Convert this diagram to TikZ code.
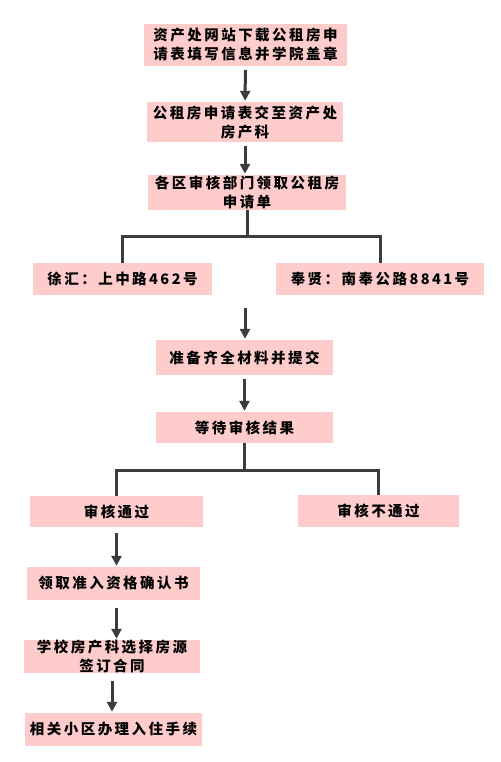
\documentclass[tikz,border=0pt]{standalone}
\usepackage{fontspec}
\newfontfamily\cjk[LetterSpace=17]{Noto Sans CJK SC}
\usepackage{tikz}
\usetikzlibrary{arrows.meta, calc, positioning}
\definecolor{boxpink}{HTML}{FFCCCC}
\definecolor{linegray}{HTML}{3C3C3C}
\tikzstyle{box} = [rectangle, fill=boxpink, inner sep=0pt, text centered, align=center, font=\cjk\bfseries\fontsize{14.5}{19}\selectfont]
\tikzstyle{arrow} = [draw=linegray, line width=3pt, -{Triangle[width=10pt,length=10pt]}, shorten <=4pt, shorten >=1pt]
\tikzstyle{line} = [draw=linegray, line width=3pt]

\begin{document}
\begin{tikzpicture}[x=1pt, y=-1pt]
		\useasboundingbox (0,0) rectangle (500,762);
		\node (Download) [box, minimum width=203pt, minimum height=42pt] at (245.5,45) {资产处网站下载公租房申\\请表填写信息并学院盖章};
		\node (Submit) [box, minimum width=196pt, minimum height=40pt] at (245,122) {公租房申请表交至资产处\\房产科};
		\node (District) [box, minimum width=198pt, minimum height=35pt] at (247,192.5) {各区审核部门领取公租房\\申请单};
		\node (Xuhui) [box, minimum width=179pt, minimum height=32pt] at (122.5,279) {徐汇：上中路462号};
		\node (Fengxian) [box, minimum width=208pt, minimum height=32pt] at (380,279) {奉贤：南奉公路8841号};
		\node (Prepare) [box, minimum width=177pt, minimum height=35pt] at (244.5,357.5) {准备齐全材料并提交};
		\node (Wait) [box, minimum width=177pt, minimum height=31pt] at (244.5,427.5) {等待审核结果};
		\node (Pass) [box, minimum width=173pt, minimum height=31pt] at (116.5,511.5) {审核通过};
		\node (Fail) [box, minimum width=161pt, minimum height=32pt] at (378.5,511) {审核不通过};
		\node (Certificate) [box, minimum width=173pt, minimum height=33pt] at (113.5,583.5) {领取准入资格确认书};
		\node (Contract) [box, minimum width=176pt, minimum height=33pt] at (112,656.5) {学校房产科选择房源\\签订合同};
		\node (Settle) [box, minimum width=177pt, minimum height=33pt] at (113.5,729.5) {相关小区办理入住手续};
		\coordinate (Gap) at (245,308);
		\draw [arrow] (Download) -- (Submit);
		\draw [arrow] (Submit.south) -- (Submit.south |- District.north);
		\draw [line] (District.south) -- ++(0,26) coordinate (Fork) -| (Xuhui.north);
		\draw [line] (Fork) -| (Fengxian.north);
		\draw [arrow, shorten <=0pt] (Gap) -- (Gap |- Prepare.north);
		\draw [arrow] (Prepare) -- (Wait);
		\draw [line] (Wait.south) -- ++(0,27) coordinate (Split) -| (Pass.north);
		\draw [line] (Split) -| (Fail.north);
		\draw [arrow, shorten <=6pt] (Pass.south) -- (Pass.south |- Certificate.north);
		\draw [arrow, shorten <=8pt] (Pass.south |- Certificate.south) -- (Pass.south |- Contract.north);
		\draw [arrow, shorten <=8pt] (Contract.south) -- (Contract.south |- Settle.north);
		\end{tikzpicture}
\end{document}
